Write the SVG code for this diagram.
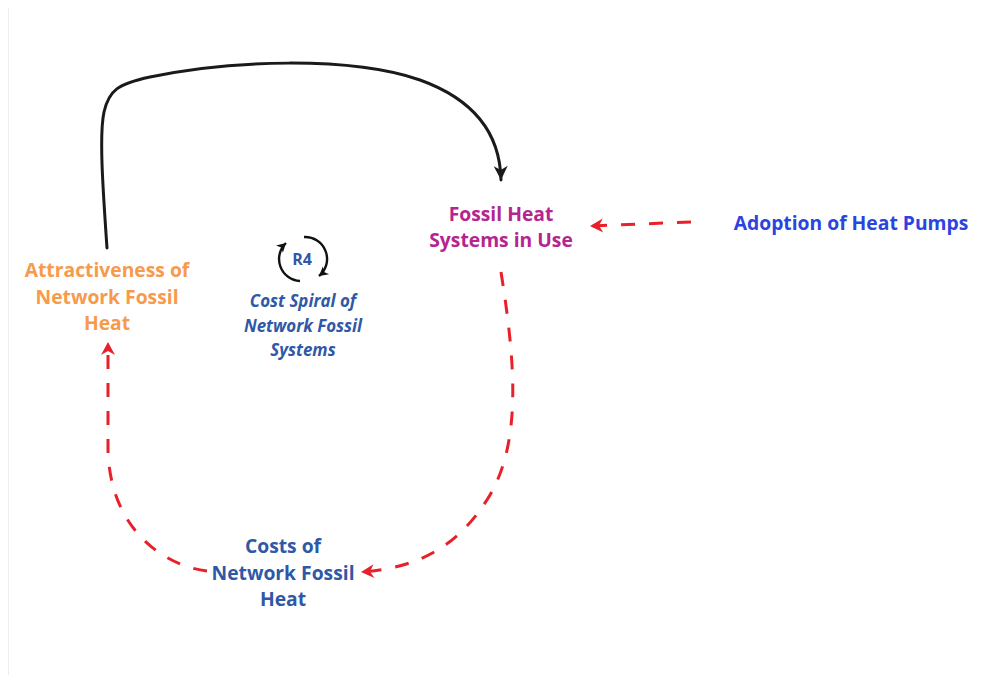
<svg xmlns="http://www.w3.org/2000/svg" width="988" height="675" viewBox="0 0 988 675">
  <defs>
    <marker id="arrow-black" markerUnits="userSpaceOnUse" markerWidth="20" markerHeight="20" viewBox="-16 -10 20 20" refX="0" refY="0" orient="auto">
      <path d="M0,0 L-14,-7 L-10,0 L-14,7 Z" fill="#1a1a1a"/>
    </marker>
    <marker id="arrow-red" markerUnits="userSpaceOnUse" markerWidth="20" markerHeight="20" viewBox="-16 -10 20 20" refX="0" refY="0" orient="auto">
      <path d="M0,0 L-13,-7 L-9,0 L-13,7 Z" fill="#e8202a"/>
    </marker>
    <marker id="arrow-loop" markerUnits="userSpaceOnUse" markerWidth="14" markerHeight="14" viewBox="-11 -7 14 14" refX="0" refY="0" orient="auto">
      <path d="M0,0 L-9,-5 L-6.5,0 L-9,5 Z" fill="#111"/>
    </marker>
  </defs>
  <style>
    .label { font-family: "Open Sans", "Noto Sans", sans-serif; font-weight: 700; font-size: 19.3px; text-anchor: middle; }
    .loop { font-family: "Open Sans", "Noto Sans", sans-serif; font-weight: 700; font-style: italic; font-size: 16.9px; text-anchor: middle; fill: #2f58a6; }
    .solid { fill: none; stroke: #1a1a1a; stroke-width: 3; stroke-linecap: round; }
    .dashed { fill: none; stroke: #e8202a; stroke-width: 3; stroke-dasharray: 14 14; }
  </style>

  <rect width="988" height="675" fill="#ffffff"/>
  <line x1="8.5" y1="8" x2="8.5" y2="675" stroke="#eeeeee" stroke-width="1"/>

  <g id="connectors">
    <path class="solid" d="M107,248 C103,190 99,135 104,112 C109,90 118,84 150,77 C230,60 350,56 420,80 C470,98 500,130 501,180" marker-end="url(#arrow-black)"/>
    <path class="dashed" d="M691,222 L590,226" marker-end="url(#arrow-red)"/>
    <path class="dashed" d="M501,272 C515,360 522,440 490,495 C460,545 420,568 361,572" marker-end="url(#arrow-red)"/>
    <path class="dashed" d="M207,571 C165,566 110,530 108,450 L108,342" marker-end="url(#arrow-red)"/>
  </g>

  <g id="node-fossil-heat-systems">
    <text class="label" fill="#b5248f"><tspan x="501" y="221">Fossil Heat</tspan><tspan x="501" y="247">Systems in Use</tspan></text>
  </g>

  <g id="node-adoption-heat-pumps">
    <text class="label" fill="#2b44e0" x="851" y="230">Adoption of Heat Pumps</text>
  </g>

  <g id="node-attractiveness">
    <text class="label" fill="#f79a4c"><tspan x="107" y="277">Attractiveness of</tspan><tspan x="107" y="304">Network Fossil</tspan><tspan x="107" y="330">Heat</tspan></text>
  </g>

  <g id="node-costs">
    <text class="label" fill="#2f58a6"><tspan x="283" y="553">Costs of</tspan><tspan x="283" y="580">Network Fossil</tspan><tspan x="283" y="606">Heat</tspan></text>
  </g>

  <g id="loop-r4">
    <path d="M300,281 A22,22 0 0 1 286,243" fill="none" stroke="#111" stroke-width="2.4" marker-end="url(#arrow-loop)"/>
    <path d="M304,237 A22,22 0 0 1 319,276" fill="none" stroke="#111" stroke-width="2.4" marker-end="url(#arrow-loop)"/>
    <text x="302" y="265" font-family="Open Sans, Noto Sans, sans-serif" font-weight="700" font-size="16" text-anchor="middle" fill="#2f58a6">R4</text>
    <text class="loop"><tspan x="303" y="307">Cost Spiral of</tspan><tspan x="303" y="332">Network Fossil</tspan><tspan x="303" y="356">Systems</tspan></text>
  </g>
</svg>
